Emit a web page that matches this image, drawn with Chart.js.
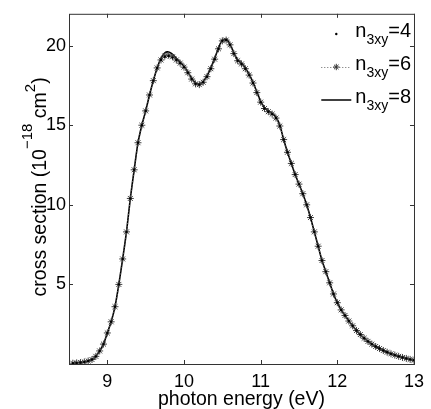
<!DOCTYPE html>
<html>
<head>
<meta charset="utf-8">
<script src="https://cdn.jsdelivr.net/npm/chart.js@4"></script>
<style>
  body { margin: 0; background: #fff; }
</style>
</head>
<body>
<canvas id="chart" width="431" height="409"></canvas>
<script>
const energies = [
  8.55, 8.60, 8.65, 8.70, 8.75, 8.80, 8.85, 8.90, 8.95, 9.00,
  9.05, 9.10, 9.15, 9.20, 9.25, 9.30, 9.35, 9.40, 9.45, 9.50,
  9.55, 9.60, 9.65, 9.70, 9.75, 9.80, 9.85, 9.90, 9.95, 10.00,
  10.05, 10.10, 10.15, 10.20, 10.25, 10.30, 10.35, 10.40, 10.45, 10.50,
  10.55, 10.60, 10.65, 10.70, 10.75, 10.80, 10.85, 10.90, 10.95, 11.00,
  11.05, 11.10, 11.15, 11.20, 11.25, 11.30, 11.35, 11.40, 11.45, 11.50,
  11.55, 11.60, 11.65, 11.70, 11.75, 11.80, 11.85, 11.90, 11.95, 12.00,
  12.05, 12.10, 12.15, 12.20, 12.25, 12.30, 12.35, 12.40, 12.45, 12.50,
  12.55, 12.60, 12.65, 12.70, 12.75, 12.80, 12.85, 12.90, 12.95, 13.00
];

// n3xy = 8 (solid line)
const sigmaN8 = [
  0.05, 0.07, 0.09, 0.13, 0.19, 0.28, 0.48, 0.82, 1.25, 1.95,
  2.65, 3.6, 5.0, 6.6, 8.3, 10.4, 12.2, 13.9, 15.0, 15.9,
  16.9, 17.8, 18.6, 19.2, 19.55, 19.6, 19.45, 19.2, 18.95, 18.7,
  18.35, 17.95, 17.65, 17.6, 17.75, 18.1, 18.6, 19.2, 19.85, 20.35,
  20.4, 20.1, 19.55, 19.1, 18.9, 18.6, 18.2, 17.7, 17.1, 16.5,
  16.1, 15.9, 15.75, 15.5, 15.0, 14.1, 13.3, 12.6, 11.9, 11.3,
  10.7, 10.0, 9.2, 8.3, 7.4, 6.5, 5.8, 5.1, 4.4, 3.85,
  3.4, 3.05, 2.7, 2.4, 2.1, 1.85, 1.62, 1.42, 1.25, 1.1,
  0.97, 0.85, 0.74, 0.64, 0.56, 0.48, 0.41, 0.35, 0.29, 0.24
];

// n3xy = 6 (dotted line with stars)
const sigmaN6 = [
  0.05, 0.07, 0.09, 0.13, 0.19, 0.28, 0.48, 0.82, 1.25, 1.95,
  2.65, 3.6, 5.0, 6.6, 8.3, 10.4, 12.2, 13.9, 15.0, 15.9,
  16.9, 17.8, 18.6, 19.1, 19.35, 19.4, 19.3, 19.1, 18.9, 18.65,
  18.3, 17.9, 17.6, 17.55, 17.7, 18.05, 18.55, 19.15, 19.8, 20.3,
  20.35, 20.05, 19.5, 19.05, 18.85, 18.55, 18.15, 17.65, 17.05, 16.45,
  16.05, 15.85, 15.7, 15.45, 14.95, 14.1, 13.3, 12.6, 11.9, 11.3,
  10.7, 10.0, 9.2, 8.3, 7.4, 6.5, 5.8, 5.1, 4.4, 3.85,
  3.4, 3.05, 2.7, 2.4, 2.1, 1.85, 1.62, 1.42, 1.25, 1.1,
  0.97, 0.85, 0.74, 0.64, 0.56, 0.48, 0.41, 0.35, 0.29, 0.24
];

// n3xy = 4 (dots only)
const sigmaN4 = [
  0.05, 0.07, 0.09, 0.13, 0.19, 0.28, 0.48, 0.82, 1.25, 1.95,
  2.65, 3.6, 5.0, 6.6, 8.3, 10.4, 12.2, 13.9, 15.0, 15.9,
  16.9, 17.8, 18.6, 19.1, 19.3, 19.35, 19.25, 19.1, 18.9, 18.65,
  18.3, 17.9, 17.6, 17.55, 17.7, 18.05, 18.55, 19.15, 19.8, 20.3,
  20.35, 20.05, 19.5, 19.05, 18.85, 18.55, 18.15, 17.65, 17.05, 16.45,
  16.05, 15.85, 15.7, 15.45, 14.95, 14.1, 13.3, 12.6, 11.9, 11.3,
  10.7, 10.0, 9.2, 8.3, 7.4, 6.5, 5.8, 5.1, 4.4, 3.85,
  3.4, 3.05, 2.7, 2.4, 2.1, 1.85, 1.62, 1.42, 1.25, 1.1,
  0.97, 0.85, 0.74, 0.64, 0.56, 0.48, 0.41, 0.35, 0.29, 0.24
];

const seriesLabels = ["4", "6", "8"];
const xTickValues = [9, 10, 11, 12, 13];
const yTickValues = [5, 10, 15, 20];

const FONT = "'Liberation Sans', Arial, Helvetica, sans-serif";
Chart.defaults.font.family = FONT;
Chart.defaults.color = "#000";

function toPoints(ys) {
  return energies.map((x, i) => ({ x: x, y: ys[i] }));
}

// box and inward ticks, matlab style
const boxPlugin = {
  id: "box",
  afterDraw(chart) {
    const ctx = chart.ctx;
    const { left, right, top, bottom } = chart.chartArea;
    const xs = chart.scales.x, ys = chart.scales.y;
    ctx.save();
    ctx.strokeStyle = "#333";
    ctx.lineWidth = 1;
    ctx.strokeRect(left + 0.5, top + 0.5, right - left, bottom - top);
    ctx.beginPath();
    xTickValues.forEach(v => {
      const px = Math.round(xs.getPixelForValue(v)) + 0.5;
      ctx.moveTo(px, bottom); ctx.lineTo(px, bottom - 4);
      ctx.moveTo(px, top); ctx.lineTo(px, top + 4);
    });
    yTickValues.forEach(v => {
      const py = Math.round(ys.getPixelForValue(v)) + 0.5;
      ctx.moveTo(left, py); ctx.lineTo(left + 4, py);
      ctx.moveTo(right, py); ctx.lineTo(right - 4, py);
    });
    ctx.stroke();

    // y axis title with superscripts, rotated
    const parts = [
      { t: "cross section (10", size: 19.5, rise: 0 },
      { t: "\u221218", size: 15, rise: 14 },
      { t: " cm", size: 19.5, rise: 0 },
      { t: "2", size: 15, rise: 11 },
      { t: ")", size: 19.5, rise: 0 }
    ];
    let total = 0;
    parts.forEach(p => {
      ctx.font = p.size + "px " + FONT;
      p.w = ctx.measureText(p.t).width;
      total += p.w;
    });
    const midY = (top + bottom) / 2 - 2;
    ctx.translate(45.5, midY + total / 2);
    ctx.rotate(-Math.PI / 2);
    ctx.fillStyle = "#000";
    ctx.textBaseline = "alphabetic";
    let u = 0;
    parts.forEach(p => {
      ctx.font = p.size + "px " + FONT;
      ctx.fillText(p.t, u, -p.rise);
      u += p.w;
    });
    ctx.restore();
  }
};

// legend with subscripts
const legendPlugin = {
  id: "subLegend",
  afterDraw(chart) {
    const ctx = chart.ctx;
    const rightEdge = 411;
    const rows = [37, 70, 103];
    ctx.save();
    ctx.fillStyle = "#000";
    ctx.textBaseline = "alphabetic";
    seriesLabels.forEach((lab, i) => {
      const base = rows[i];
      ctx.font = "20px " + FONT;
      const wN = ctx.measureText("n").width;
      const wEq = ctx.measureText("=" + lab).width;
      ctx.font = "14px " + FONT;
      const wSub = ctx.measureText("3xy").width;
      let x = rightEdge - (wN + wSub + wEq);
      ctx.font = "20px " + FONT;
      ctx.fillText("n", x, base);
      ctx.font = "14px " + FONT;
      ctx.fillText("3xy", x + wN, base + 7);
      ctx.font = "20px " + FONT;
      ctx.fillText("=" + lab, x + wN + wSub, base);

      const ly = base - 3;
      const x0 = x - 34, x1 = x - 4, xm = (x0 + x1) / 2;
      ctx.strokeStyle = "#000";
      if (i === 0) {
        ctx.beginPath(); ctx.arc(xm, ly, 1.2, 0, Math.PI * 2); ctx.fill();
      } else if (i === 1) {
        ctx.setLineDash([1, 2]);
        ctx.lineWidth = 1;
        ctx.strokeStyle = "#666";
        ctx.beginPath(); ctx.moveTo(x0, ly + 0.5); ctx.lineTo(x1, ly + 0.5); ctx.stroke();
        ctx.setLineDash([]);
        ctx.strokeStyle = "#333";
        ctx.beginPath();
        const r = 3.2;
        for (let a = 0; a < 4; a++) {
          const t = a * Math.PI / 4;
          ctx.moveTo(xm - r * Math.cos(t), ly - r * Math.sin(t));
          ctx.lineTo(xm + r * Math.cos(t), ly + r * Math.sin(t));
        }
        ctx.stroke();
      } else {
        ctx.lineWidth = 1.5;
        ctx.beginPath(); ctx.moveTo(x0, ly); ctx.lineTo(x1, ly); ctx.stroke();
      }
    });
    ctx.restore();
  }
};

new Chart(document.getElementById("chart"), {
  type: "line",
  data: {
    datasets: [
      {
        label: "n3xy=4",
        data: toPoints(sigmaN4),
        showLine: false,
        pointStyle: "circle",
        pointRadius: 1.2,
        pointBackgroundColor: "#000",
        pointBorderWidth: 0
      },
      {
        label: "n3xy=6",
        data: toPoints(sigmaN6),
        borderColor: "#666",
        borderWidth: 1,
        borderDash: [1, 2],
        pointStyle: "star",
        pointRadius: 3.5,
        pointBorderColor: "#444",
        pointBorderWidth: 1,
        tension: 0.2
      },
      {
        label: "n3xy=8",
        data: toPoints(sigmaN8),
        borderColor: "#000",
        borderWidth: 1.6,
        pointRadius: 0,
        tension: 0.2
      }
    ]
  },
  options: {
    responsive: false,
    animation: false,
    layout: { padding: { left: 0, right: 10, top: 13, bottom: 0 } },
    plugins: { legend: { display: false }, tooltip: { enabled: false } },
    scales: {
      x: {
        type: "linear",
        min: 8.5,
        max: 13,
        grid: { display: false, drawTicks: false },
        border: { display: false },
        afterBuildTicks: s => { s.ticks = xTickValues.map(v => ({ value: v })); },
        afterFit: s => { s.height = 45; },
        ticks: { font: { size: 18 }, padding: 7, maxRotation: 0 },
        title: {
          display: true,
          text: "photon energy (eV)",
          font: { size: 19.5, lineHeight: 1 },
          padding: { top: 0, bottom: 0 }
        }
      },
      y: {
        type: "linear",
        min: 0,
        max: 22,
        grid: { display: false, drawTicks: false },
        border: { display: false },
        afterBuildTicks: s => { s.ticks = yTickValues.map(v => ({ value: v })); },
        afterFit: s => { s.width = 69; },
        ticks: { font: { size: 18 }, padding: 3 }
      }
    }
  },
  plugins: [boxPlugin, legendPlugin]
});
</script>
</body>
</html>
